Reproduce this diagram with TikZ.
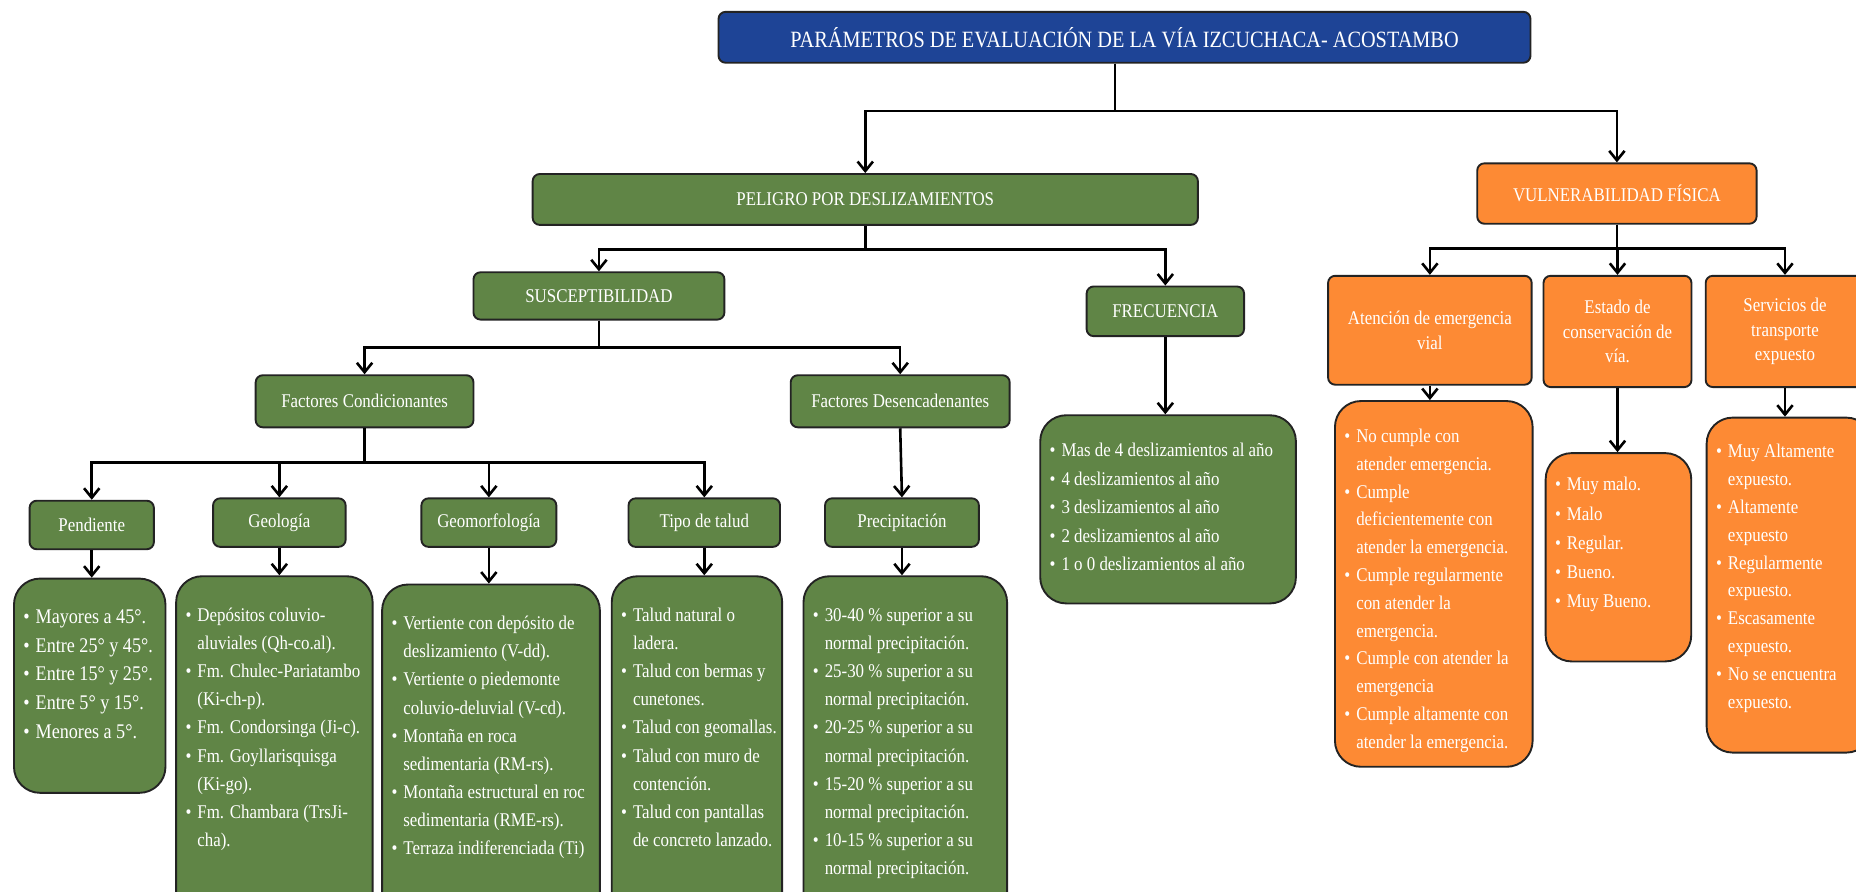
\documentclass[tikz,border=0pt]{standalone}
\usepackage{fontspec}
\setmainfont[FakeStretch=0.87]{Liberation Serif}
\usetikzlibrary{arrows.meta,positioning}
\definecolor{titleblue}{RGB}{30,68,150}
\definecolor{boxgreen}{RGB}{96,133,70}
\definecolor{boxorange}{RGB}{253,138,52}
\definecolor{edgegray}{RGB}{35,35,35}
\newcommand{\bitems}[1]{\spaceskip=0pt\xspaceskip=0pt\begin{tabular}[t]{@{}l@{\hspace{5pt}}l@{}}#1\end{tabular}}

\begin{document}
\begin{tikzpicture}[x=1pt,y=-1pt]
\tikzset{
  basebox/.style={draw=edgegray,line width=1.6pt,text=white,align=center,rounded corners=6pt,inner sep=3pt},
  titlebox/.style={basebox,fill=titleblue,font=\fontsize{19.7}{23}\selectfont},
  greenbox/.style={basebox,fill=boxgreen,font=\fontsize{16.4}{21}\selectfont},
  orangebox/.style={basebox,fill=boxorange,font=\fontsize{16.4}{21}\selectfont},
  listbox/.style={draw=edgegray,line width=1.6pt,text=white,rounded corners=22pt,anchor=north west,
    inner xsep=8pt,inner ysep=10pt,text height=28pt,align=left,font=\fontsize{16.4}{23.8}\selectfont},
  greenlist/.style={listbox,fill=boxgreen},
  orangelist/.style={listbox,fill=boxorange},
  link/.style={draw=black,line width=2.2pt,line join=miter},
  arrowlink/.style={link,-{Straight Barb[length=8pt,width=13pt]}}
}
\path[use as bounding box] (0,0) rectangle (1568,753);
\clip (0,0) rectangle (1568,753);
\node[titlebox,minimum width=686,minimum height=43] (n_title) at (950,31.5) {PARÁMETROS DE EVALUACIÓN DE LA VÍA IZCUCHACA- ACOSTAMBO};
\node[greenbox,minimum width=562,minimum height=43] (n_peligro) at (731,168.5) {PELIGRO POR DESLIZAMIENTOS};
\node[orangebox,minimum width=236,minimum height=51] (n_vulner) at (1366,163.5) {VULNERABILIDAD FÍSICA};
\node[greenbox,minimum width=212,minimum height=40] (n_suscep) at (506,250) {SUSCEPTIBILIDAD};
\node[greenbox,minimum width=133,minimum height=42] (n_frec) at (984.5,263) {FRECUENCIA};
\node[greenbox,minimum width=184,minimum height=44] (n_fcond) at (308,339) {Factores Condicionantes};
\node[greenbox,minimum width=185,minimum height=44] (n_fdes) at (760.5,339) {Factores Desencadenantes};
\node[greenbox,minimum width=105,minimum height=41] (n_pend) at (77.5,443.5) {Pendiente};
\node[greenbox,minimum width=112,minimum height=41] (n_geol) at (236,441.5) {Geología};
\node[greenbox,minimum width=114,minimum height=41] (n_geom) at (413,441.5) {Geomorfología};
\node[greenbox,minimum width=128,minimum height=41] (n_talud) at (595,441.5) {Tipo de talud};
\node[greenbox,minimum width=130,minimum height=41] (n_precip) at (762,441.5) {Precipitación};
\node[orangebox,minimum width=172,minimum height=92] (n_aten) at (1208,279) {Atención de emergencia\\vial};
\node[orangebox,minimum width=125,minimum height=94] (n_estado) at (1366.5,280) {Estado de\\conservación de\\vía.};
\node[orangebox,minimum width=134,minimum height=94] (n_serv) at (1508,280) {Servicios de\\transporte\\expuesto};

\node[greenlist,text width=112,text depth=133,font=\fontsize{17.6}{24.2}\selectfont] (n_lpend) at (11,488) {\bitems{
  \textbullet & Mayores a 45°.\\
  \textbullet & Entre 25° y 45°.\\
  \textbullet & Entre 15° y 25°.\\
  \textbullet & Entre 5° y 15°.\\
  \textbullet & Menores a 5°.\\}};
\node[greenlist,text width=150,text depth=254] (n_lgeol) at (148,486) {\bitems{
  \textbullet & Depósitos coluvio-\\
  & aluviales (Qh-co.al).\\
  \textbullet & Fm. Chulec-Pariatambo\\
  & (Ki-ch-p).\\
  \textbullet & Fm. Condorsinga (Ji-c).\\
  \textbullet & Fm. Goyllarisquisga\\
  & (Ki-go).\\
  \textbullet & Fm. Chambara (TrsJi-\\
  & cha).\\}};
\node[greenlist,text width=168,text depth=254] (n_lgeom) at (322,493) {\bitems{
  \textbullet & Vertiente con depósito de\\
  & deslizamiento (V-dd).\\
  \textbullet & Vertiente o piedemonte\\
  & coluvio-deluvial (V-cd).\\
  \textbullet & Montaña en roca\\
  & sedimentaria (RM-rs).\\
  \textbullet & Montaña estructural en roc\\
  & sedimentaria (RME-rs).\\
  \textbullet & Terraza indiferenciada (Ti)\\}};
\node[greenlist,text width=128,text depth=254] (n_ltalud) at (516,486) {\bitems{
  \textbullet & Talud natural o\\
  & ladera.\\
  \textbullet & Talud con bermas y\\
  & cunetones.\\
  \textbullet & Talud con geomallas.\\
  \textbullet & Talud con muro de\\
  & contención.\\
  \textbullet & Talud con pantallas\\
  & de concreto lanzado.\\}};
\node[greenlist,text width=156,text depth=254] (n_lprec) at (678,486) {\bitems{
  \textbullet & 30-40 \% superior a su\\
  & normal precipitación.\\
  \textbullet & 25-30 \% superior a su\\
  & normal precipitación.\\
  \textbullet & 20-25 \% superior a su\\
  & normal precipitación.\\
  \textbullet & 15-20 \% superior a su\\
  & normal precipitación.\\
  \textbullet & 10-15 \% superior a su\\
  & normal precipitación.\\}};
\node[greenlist,text width=200,text height=25,text depth=114,font=\fontsize{16.4}{24.1}\selectfont] (n_lfrec) at (878,350) {\bitems{
  \textbullet & Mas de 4 deslizamientos al año\\
  \textbullet & 4 deslizamientos al año\\
  \textbullet & 3 deslizamientos al año\\
  \textbullet & 2 deslizamientos al año\\
  \textbullet & 1 o 0 deslizamientos al año\\}};
\node[orangelist,text width=151,text height=25,text depth=264,font=\fontsize{16.4}{23.5}\selectfont] (n_laten) at (1127,338) {\bitems{
  \textbullet & No cumple con\\
  & atender emergencia.\\
  \textbullet & Cumple\\
  & deficientemente con\\
  & atender la emergencia.\\
  \textbullet & Cumple regularmente\\
  & con atender la\\
  & emergencia.\\
  \textbullet & Cumple con atender la\\
  & emergencia\\
  \textbullet & Cumple altamente con\\
  & atender la emergencia.\\}};
\node[orangelist,text width=107,text height=22,text depth=134,font=\fontsize{16.4}{24.6}\selectfont] (n_lestado) at (1305,382) {\bitems{
  \textbullet & Muy malo.\\
  \textbullet & Malo\\
  \textbullet & Regular.\\
  \textbullet & Bueno.\\
  \textbullet & Muy Bueno.\\}};
\node[orangelist,text width=124,text height=24,text depth=239,font=\fontsize{16.4}{23.5}\selectfont] (n_lserv) at (1441,352) {\bitems{
  \textbullet & Muy Altamente\\
  & expuesto.\\
  \textbullet & Altamente\\
  & expuesto\\
  \textbullet & Regularmente\\
  & expuesto.\\
  \textbullet & Escasamente\\
  & expuesto.\\
  \textbullet & No se encuentra\\
  & expuesto.\\}};

\draw[arrowlink] ([xshift=-8pt]n_title.south) -- ++(0,40) -| (n_peligro.north);
\draw[arrowlink] ([xshift=-8pt]n_title.south) -- ++(0,40) -| (n_vulner.north);
\draw[arrowlink] (n_peligro.south) -- ++(0,20) -| (n_suscep.north);
\draw[arrowlink] (n_peligro.south) -- ++(0,20) -| (n_frec.north);
\draw[arrowlink] (n_suscep.south) -- ++(0,23) -| (n_fcond.north);
\draw[arrowlink] (n_suscep.south) -- ++(0,23) -| (n_fdes.north);
\draw[arrowlink] (n_fcond.south) -- ++(0,29) -| (n_pend.north);
\draw[arrowlink] (n_fcond.south) -- ++(0,29) -| (n_geol.north);
\draw[arrowlink] (n_fcond.south) -- ++(0,29) -| (n_geom.north);
\draw[arrowlink] (n_fcond.south) -- ++(0,29) -| (n_talud.north);
\draw[arrowlink] (n_fdes.south) -- (n_precip.north);
\draw[arrowlink] (n_vulner.south) -- ++(0,20) -| (n_aten.north);
\draw[arrowlink] (n_vulner.south) -- ++(0,20) -| (n_estado.north);
\draw[arrowlink] (n_vulner.south) -- ++(0,20) -| (n_serv.north);
\draw[arrowlink] (n_frec.south) -- (n_frec.south |- n_lfrec.north);
\draw[arrowlink] (n_pend.south) -- (n_pend.south |- n_lpend.north);
\draw[arrowlink] (n_geol.south) -- (n_geol.south |- n_lgeol.north);
\draw[arrowlink] (n_geom.south) -- (n_geom.south |- n_lgeom.north);
\draw[arrowlink] (n_talud.south) -- (n_talud.south |- n_ltalud.north);
\draw[arrowlink] (n_precip.south) -- (n_precip.south |- n_lprec.north);
\draw[arrowlink] (n_aten.south) -- (n_aten.south |- n_laten.north);
\draw[arrowlink] (n_estado.south) -- (n_estado.south |- n_lestado.north);
\draw[arrowlink] (n_serv.south) -- (n_serv.south |- n_lserv.north);
\end{tikzpicture}
\end{document}
